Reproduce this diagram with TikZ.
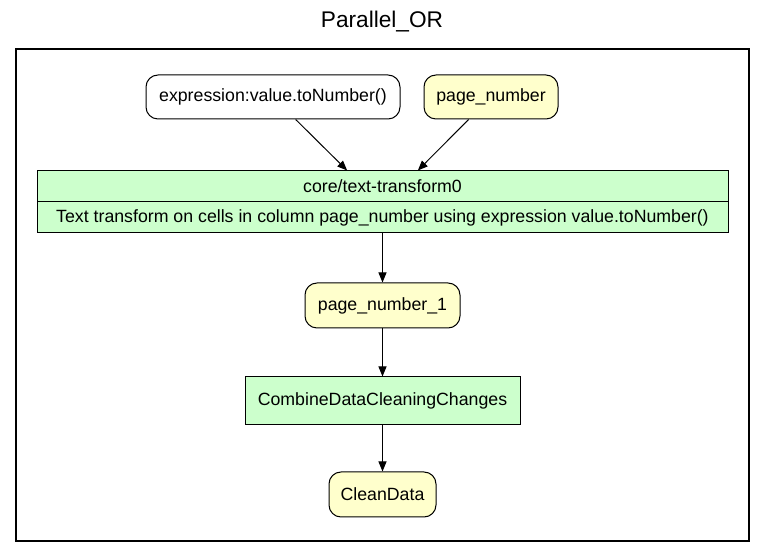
\documentclass[tikz,border=0pt]{standalone}
\usepackage{fontspec}
\setmainfont{Liberation Sans}
\usetikzlibrary{positioning,arrows.meta}
\definecolor{dataYellow}{HTML}{FFFFCC}
\definecolor{stepGreen}{HTML}{CCFFCC}
\tikzset{
  nodefont/.style={font=\fontsize{13.3pt}{16pt}\selectfont},
  data/.style={draw, rounded corners=9pt, fill=dataYellow, line width=0.75pt, nodefont, minimum height=33pt, inner sep=0pt},
  param/.style={data, fill=white},
  stepbox/.style={draw, fill=stepGreen, line width=0.75pt, nodefont, inner sep=0pt},
  flow/.style={-{Triangle[length=7.5pt,width=6pt]}, line width=0.75pt}
}
\begin{document}
\begin{tikzpicture}[x=0.75pt, y=-0.75pt]
  \useasboundingbox (0,0) rectangle (765,559);
  \node[font=\fontsize{17pt}{20pt}\selectfont] (title) at (382,22) {Parallel\_OR};
  \draw[line width=1.5pt] (16,49) rectangle (749,541);

  \node[param, minimum width=190.5pt] (expr) at (273,97) {expression:value.toNumber()};
  \node[data, minimum width=100.5pt] (pagenum) at (491,97) {page\_number};
  \node[stepbox, minimum width=518.25pt, minimum height=23.25pt] (tfname) at (382.5,186.5) {core/text-transform0};
  \node[stepbox, minimum width=518.25pt, minimum height=23.25pt] (tfdesc) at (382.5,217.5) {Text transform on cells in column page\_number using expression value.toNumber()};
  \node[data, minimum width=116.25pt, minimum height=33.75pt] (pagenum1) at (382.5,305.5) {page\_number\_1};
  \node[stepbox, minimum width=206.25pt, minimum height=36pt] (combine) at (382.5,401) {CombineDataCleaningChanges};
  \node[data, minimum width=80.25pt, minimum height=33.75pt] (clean) at (382.5,494.5) {CleanData};

  \draw[flow] (expr) -- ([xshift=-26.5pt]tfname.north);
  \draw[flow] (pagenum) -- ([xshift=26.5pt]tfname.north);
  \draw[flow] (tfdesc) -- (pagenum1);
  \draw[flow] (pagenum1) -- (combine);
  \draw[flow] (combine) -- (clean);
\end{tikzpicture}
\end{document}
